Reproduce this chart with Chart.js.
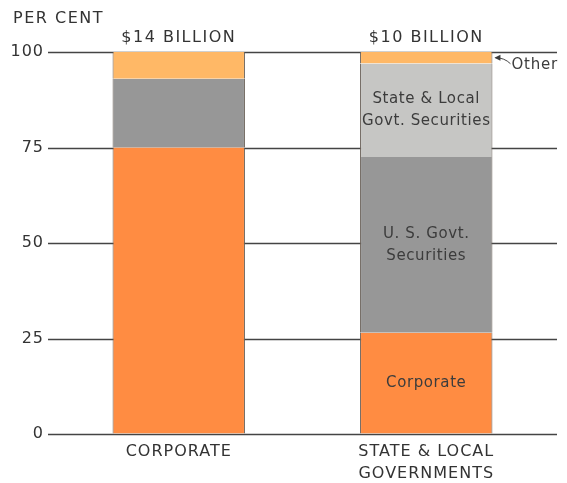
<!DOCTYPE html>
<html>
<head>
<meta charset="utf-8">
<script src="https://cdn.jsdelivr.net/npm/chart.js@4"></script>
<style>
  html, body { margin: 0; padding: 0; background: #fff; }
  #wrap { width: 567px; height: 483px; }
</style>
</head>
<body>
<div id="wrap"><canvas id="holdingsChart"></canvas></div>
<script>
  // data (per cent of total)
  const categories = [['CORPORATE'], ['STATE & LOCAL', 'GOVERNMENTS']];
  const totals = ['$14 BILLION', '$10 BILLION'];
  const corporate = [75, 26.5];
  const usGovt = [18, 46];
  const stateLocal = [0, 24.5];
  const other = [7, 3];
  const yTicks = [0, 25, 50, 75, 100];

  const FONT = '"DejaVu Sans", "Noto Sans", sans-serif';
  const INK = '#333';

  // segment labels inside the right-hand bar: [datasetIndex, lines]
  const segmentLabels = [
    [0, ['Corporate']],
    [1, ['U. S. Govt.', 'Securities']],
    [2, ['State & Local', 'Govt. Securities']]
  ];

  const annotate = {
    id: 'annotate',
    beforeDraw(chart) {
      // the original lettering is widely spaced
      chart.ctx.letterSpacing = '1px';
    },
    beforeDatasetsDraw(chart) {
      // horizontal rules across the whole width, behind the bars
      const { ctx } = chart;
      const y = chart.scales.y;
      ctx.save();
      ctx.strokeStyle = '#444';
      ctx.lineWidth = 1.5;
      yTicks.forEach(v => {
        const py = Math.round(y.getPixelForValue(v)) + 0.5;
        ctx.beginPath();
        ctx.moveTo(48, py);
        ctx.lineTo(557, py);
        ctx.stroke();
      });
      ctx.restore();
    },
    afterDatasetsDraw(chart) {
      const { ctx } = chart;
      const x = chart.scales.x;
      ctx.save();
      ctx.fillStyle = INK;
      ctx.textBaseline = 'middle';

      ctx.font = '16px ' + FONT;
      ctx.letterSpacing = '1.5px';
      ctx.textAlign = 'left';
      ctx.fillText('PER CENT', 13, 19);

      ctx.textAlign = 'center';
      totals.forEach((t, i) => {
        ctx.fillText(t, x.getPixelForValue(i), 38);
      });

      // labels centred in each segment of the second bar
      ctx.font = '15px ' + FONT;
      ctx.letterSpacing = '0.6px';
      ctx.fillStyle = '#3c3c3c';
      segmentLabels.forEach(([di, lines]) => {
        const bar = chart.getDatasetMeta(di).data[1];
        const mid = (bar.y + bar.base) / 2;
        lines.forEach((ln, k) => {
          ctx.fillText(ln, bar.x, mid + (k - (lines.length - 1) / 2) * 22);
        });
      });

      // "Other" pointer
      const ob = chart.getDatasetMeta(3).data[1];
      const right = ob.x + ob.width / 2;
      const oy = (ob.y + ob.base) / 2;
      ctx.strokeStyle = '#444';
      ctx.lineWidth = 1;
      ctx.beginPath();
      ctx.moveTo(right + 3, oy);
      ctx.quadraticCurveTo(right + 12, oy, right + 18, oy + 6);
      ctx.stroke();
      ctx.beginPath();
      ctx.moveTo(right + 2, oy);
      ctx.lineTo(right + 8, oy - 3);
      ctx.lineTo(right + 8, oy + 3);
      ctx.closePath();
      ctx.fill();
      ctx.textAlign = 'left';
      ctx.font = '15px ' + FONT;
      ctx.letterSpacing = '0.8px';
      ctx.fillText('Other', right + 19, oy + 7);
      ctx.restore();
    }
  };

  const side = { top: 0, bottom: 0, left: 1, right: 1 };

  new Chart(document.getElementById('holdingsChart'), {
    type: 'bar',
    data: {
      labels: categories,
      datasets: [
        { label: 'Corporate', data: corporate, backgroundColor: '#ff8c42' },
        { label: 'U. S. Govt. Securities', data: usGovt, backgroundColor: '#979797' },
        { label: 'State & Local Govt. Securities', data: stateLocal, backgroundColor: '#c6c6c4' },
        { label: 'Other', data: other, backgroundColor: '#ffb866' }
      ].map(d => Object.assign(d, {
        borderColor: '#6b625a',
        borderWidth: side,
        borderSkipped: false,
        barPercentage: 1,
        categoryPercentage: 0.535
      }))
    },
    options: {
      responsive: true,
      maintainAspectRatio: false,
      animation: false,
      layout: { padding: { top: 52, right: 17, left: 0, bottom: 0 } },
      plugins: {
        legend: { display: false },
        tooltip: { enabled: false }
      },
      scales: {
        x: {
          stacked: true,
          grid: { display: false, drawTicks: false },
          border: { display: false },
          ticks: {
            color: INK,
            font: { family: FONT, size: 16, lineHeight: 1.35 },
            padding: 7,
            maxRotation: 0
          },
          afterFit(scale) { scale.height = 49; }
        },
        y: {
          stacked: true,
          min: 0,
          max: 100,
          afterBuildTicks(scale) { scale.ticks = yTicks.map(v => ({ value: v })); },
          grid: { drawOnChartArea: false, drawTicks: false },
          border: { display: false },
          ticks: {
            color: INK,
            font: { family: FONT, size: 16 },
            padding: 11
          },
          afterFit(scale) { scale.width = 55; }
        }
      }
    },
    plugins: [annotate]
  });
</script>
</body>
</html>
